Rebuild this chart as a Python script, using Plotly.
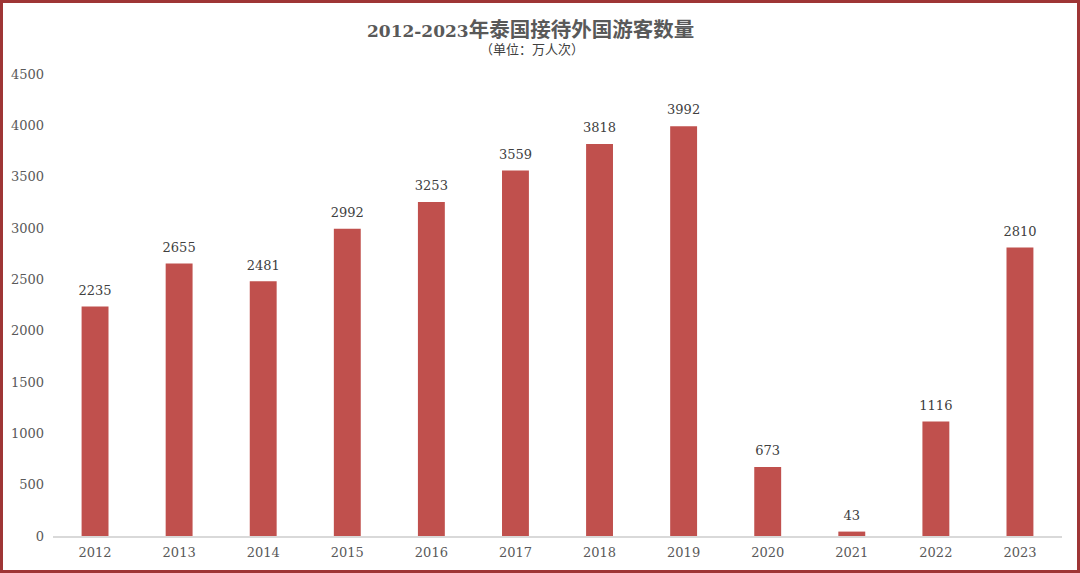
import plotly.graph_objects as go

years = ["2012", "2013", "2014", "2015", "2016", "2017", "2018", "2019", "2020", "2021", "2022", "2023"]
visitors = [2235, 2655, 2481, 2992, 3253, 3559, 3818, 3992, 673, 43, 1116, 2810]
y_ticks = [0, 500, 1000, 1500, 2000, 2500, 3000, 3500, 4000, 4500]

W, H = 1080, 573
ML, MR, MT, MB = 53, 18, 74, 37
PW, PH = W - ML - MR, H - MT - MB

FONT = "DejaVu Serif, Noto Sans CJK SC, serif"

fig = go.Figure()
fig.add_trace(go.Bar(
    x=years, y=visitors,
    marker=dict(color="#C0504D", line=dict(width=0)),
    width=0.32, hoverinfo="x+y",
))
fig.add_trace(go.Scatter(
    x=years, y=visitors, mode="markers+text",
    marker=dict(size=12, opacity=0),
    text=[str(v) for v in visitors], textposition="top center",
    textfont=dict(family=FONT, size=13, color="#404040"),
    cliponaxis=False, hoverinfo="skip",
))

def px(xp):
    return (xp - ML) / PW

def py(yp):
    return (H - MB - yp) / PH

fig.update_layout(
    width=W, height=H,
    margin=dict(l=ML, r=MR, t=MT, b=MB),
    plot_bgcolor="white", paper_bgcolor="white",
    showlegend=False,
    xaxis=dict(range=[-0.5, len(years) - 0.5], showgrid=False, showline=True,
               linecolor="#D9D9D9", linewidth=1.5,
               ticks="", ticklabelstandoff=4,
               tickfont=dict(family=FONT, size=13, color="#595959")),
    yaxis=dict(range=[0, 4500], tickvals=y_ticks, showgrid=False, zeroline=False,
               showline=False, ticks="", ticklabelstandoff=8,
               tickfont=dict(family=FONT, size=13, color="#595959")),
    annotations=[
        dict(text="<b><span style='font-size:17px'>2012-2023</span>年泰国接待外国游客数量</b>",
             x=px(530.5), y=py(30),
             xref="paper", yref="paper", showarrow=False, xanchor="center", yanchor="middle",
             font=dict(family=FONT, size=20.5, color="#595959")),
        dict(text="（单位：万人次）", x=px(532), y=py(50),
             xref="paper", yref="paper", showarrow=False, xanchor="center", yanchor="middle",
             font=dict(family=FONT, size=13, color="#404040")),
    ],
    shapes=[
        dict(type="rect", xref="paper", yref="paper",
             x0=px(1.5), x1=px(W - 1.5), y0=py(H - 1.5), y1=py(1.5),
             line=dict(color="#9E3535", width=3), fillcolor="rgba(0,0,0,0)", layer="above"),
    ],
)

fig.write_html("out.html")
